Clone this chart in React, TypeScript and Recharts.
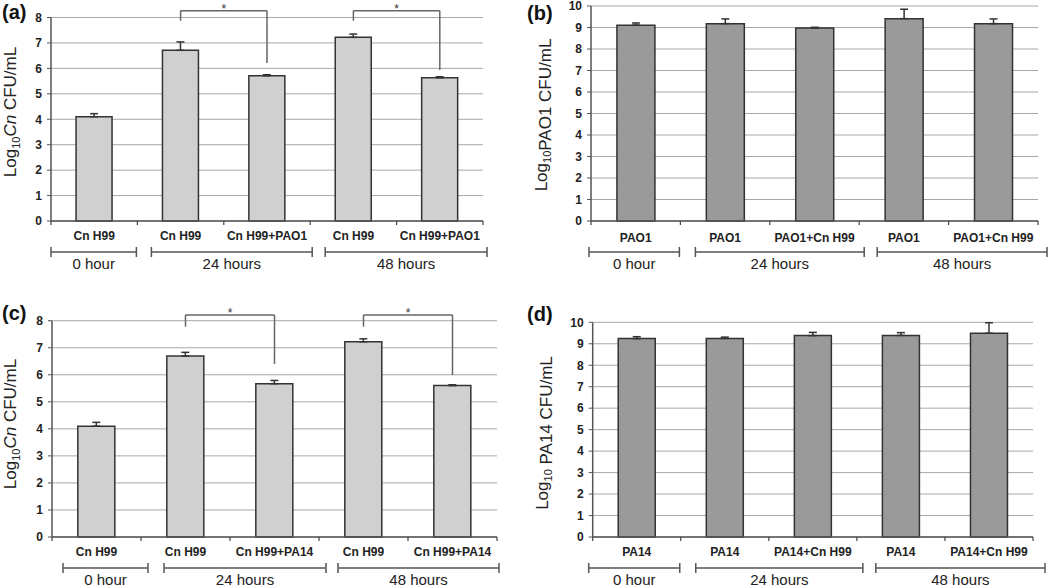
import {
  Bar,
  BarChart,
  CartesianGrid,
  ErrorBar,
  ReferenceLine,
  XAxis,
  YAxis,
} from "recharts";

const FONT = "'Liberation Sans', Arial, sans-serif";

// shared x grouping
const groupLabels = ["0 hour", "24 hours", "48 hours"];
const groupSpans: [number, number][] = [
  [0, 0],
  [1, 2],
  [3, 4],
];

// (a) Cn with PAO1
const catsA = ["Cn H99", "Cn H99", "Cn H99+PAO1", "Cn H99", "Cn H99+PAO1"];
const valsA = [4.1, 6.71, 5.71, 7.22, 5.63];
const errA = [0.12, 0.33, 0.04, 0.13, 0.04];

// (b) PAO1
const catsB = ["PAO1", "PAO1", "PAO1+Cn H99", "PAO1", "PAO1+Cn H99"];
const valsB = [9.11, 9.18, 8.98, 9.41, 9.18];
const errB = [0.1, 0.22, 0.03, 0.44, 0.22];

// (c) Cn with PA14
const catsC = ["Cn H99", "Cn H99", "Cn H99+PA14", "Cn H99", "Cn H99+PA14"];
const valsC = [4.1, 6.69, 5.67, 7.22, 5.6];
const errC = [0.14, 0.14, 0.12, 0.11, 0.03];

// (d) PA14
const catsD = ["PA14", "PA14", "PA14+Cn H99", "PA14", "PA14+Cn H99"];
const valsD = [9.24, 9.25, 9.38, 9.39, 9.49];
const errD = [0.09, 0.06, 0.15, 0.13, 0.49];

const ticks8 = [0, 1, 2, 3, 4, 5, 6, 7, 8];
const ticks10 = [0, 1, 2, 3, 4, 5, 6, 7, 8, 9, 10];

// significance brackets: category indexes, bracket top, leg ends
type Sig = { from: number; to: number; top: number; fromEnd: number; toEnd: number };
const sigA: Sig[] = [
  { from: 1, to: 2, top: 8.27, fromEnd: 7.87, toEnd: 6.21 },
  { from: 3, to: 4, top: 8.27, fromEnd: 7.87, toEnd: 5.94 },
];
const sigC: Sig[] = [
  { from: 1, to: 2, top: 8.21, fromEnd: 7.78, toEnd: 6.4 },
  { from: 3, to: 4, top: 8.21, fromEnd: 7.78, toEnd: 5.99 },
];

type Row = { key: string; value: number; err: [number, number] };
const makeRows = (vals: number[], errs: number[]): Row[] =>
  vals.map((v, i) => ({ key: String(i), value: v, err: [0, errs[i]] }));

type YLab = { sub: string; italic: string; rest: string };

type PanelCfg = {
  tag: string;
  tagY: number;
  left: number;
  top: number;
  width: number;
  height: number;
  margin: { top: number; right: number; bottom: number; left: number };
  xAxisHeight: number;
  cats: string[];
  rows: Row[];
  fill: string;
  yMax: number;
  yTicks: number[];
  sig: Sig[];
  groupPad: [number, number][];
  ylab: YLab;
  ylabX: number;
  ylabY: number;
  catDy: number;
};

const Y_AXIS_W = 30;

function makeTick(cfg: PanelCfg, bw: number) {
  return (props: any) => {
    const { x, y, payload } = props;
    const i = Number(payload.value);
    const lb = x - bw / 2;
    const gi = groupSpans.findIndex((s) => s[0] === i);
    let group = null;
    if (gi >= 0) {
      const [s, e] = groupSpans[gi];
      const x1 = lb + cfg.groupPad[gi][0];
      const x2 = lb + (e - s + 1) * bw + cfg.groupPad[gi][1];
      group = (
        <g>
          <line x1={x1} x2={x2} y1={y + 31} y2={y + 31} stroke="#555" strokeWidth={1.5} />
          <line x1={x1} x2={x1} y1={y + 26} y2={y + 36} stroke="#555" strokeWidth={1.5} />
          <line x1={x2} x2={x2} y1={y + 26} y2={y + 36} stroke="#555" strokeWidth={1.5} />
          <text x={(x1 + x2) / 2} y={y + 47.5} textAnchor="middle" fontSize={15} fill="#222" fontFamily={FONT}>
            {groupLabels[gi]}
          </text>
        </g>
      );
    }
    return (
      <g>
        <line x1={lb} x2={lb} y1={y} y2={y + 4} stroke="#444" strokeWidth={1.2} />
        {i === cfg.cats.length - 1 && (
          <line x1={lb + bw} x2={lb + bw} y1={y} y2={y + 4} stroke="#444" strokeWidth={1.2} />
        )}
        <text x={x} y={y + cfg.catDy} textAnchor="middle" fontSize={12} fontWeight="bold" fill="#222" fontFamily={FONT}>
          {cfg.cats[i]}
        </text>
        {group}
      </g>
    );
  };
}

function Panel({ cfg }: { cfg: PanelCfg }) {
  const m = cfg.margin;
  const bw = (cfg.width - m.left - m.right - Y_AXIS_W) / cfg.cats.length;
  const lineProps = { stroke: "#666", strokeWidth: 1.5, ifOverflow: "visible" as const };
  return (
    <div style={{ position: "absolute", left: cfg.left, top: cfg.top, width: cfg.width, height: cfg.height }}>
      <BarChart width={cfg.width} height={cfg.height} data={cfg.rows} margin={m} barCategoryGap="29%">
        <CartesianGrid vertical={false} stroke="#a8a8a8" strokeWidth={1} />
        <XAxis
          dataKey="key"
          height={cfg.xAxisHeight}
          interval={0}
          tickSize={0}
          tickMargin={0}
          tickLine={false}
          axisLine={{ stroke: "#555", strokeWidth: 1.5 }}
          tick={makeTick(cfg, bw)}
        />
        <YAxis
          width={Y_AXIS_W}
          domain={[0, cfg.yMax]}
          ticks={cfg.yTicks}
          interval={0}
          tickSize={4}
          tickMargin={5}
          axisLine={{ stroke: "#555", strokeWidth: 1.5 }}
          tickLine={{ stroke: "#555" }}
          tick={{ fontSize: 12, fontWeight: "bold", fill: "#222", fontFamily: FONT }}
        />
        <Bar dataKey="value" fill={cfg.fill} stroke="#333" strokeWidth={1.5} isAnimationActive={false}>
          <ErrorBar dataKey="err" width={4} stroke="#333" strokeWidth={1.5} direction="y" isAnimationActive={false} />
        </Bar>
        {cfg.sig.map((s, k) => [
          <ReferenceLine
            key={`l${k}`}
            {...lineProps}
            segment={[
              { x: String(s.from), y: s.fromEnd },
              { x: String(s.from), y: s.top },
            ]}
          />,
          <ReferenceLine
            key={`t${k}`}
            {...lineProps}
            segment={[
              { x: String(s.from), y: s.top },
              { x: String(s.to), y: s.top },
            ]}
            label={{ value: "*", position: "top", offset: -2, fontSize: 12, fill: "#333", fontFamily: FONT }}
          />,
          <ReferenceLine
            key={`r${k}`}
            {...lineProps}
            segment={[
              { x: String(s.to), y: s.top },
              { x: String(s.to), y: s.toEnd },
            ]}
          />,
        ])}
      </BarChart>
      <svg
        width={cfg.width}
        height={cfg.height}
        style={{ position: "absolute", left: 0, top: 0, pointerEvents: "none" }}
      >
        <text x={2} y={cfg.tagY} fontSize={20} fontWeight="bold" fill="#111" fontFamily={FONT}>
          {cfg.tag}
        </text>
        <text
          x={cfg.ylabX}
          y={cfg.ylabY}
          transform={`rotate(-90, ${cfg.ylabX}, ${cfg.ylabY})`}
          textAnchor="middle"
          fontSize={17}
          fill="#222"
          fontFamily={FONT}
        >
          Log
          <tspan fontSize={11} dy={4}>
            {cfg.ylab.sub}
          </tspan>
          <tspan dy={-4} fontStyle="italic">
            {cfg.ylab.italic}
          </tspan>
          <tspan>{cfg.ylab.rest}</tspan>
        </text>
      </svg>
    </div>
  );
}

const panels: PanelCfg[] = [
  {
    tag: "(a)",
    tagY: 19,
    left: 0,
    top: 0,
    width: 525,
    height: 290,
    margin: { top: 17.5, right: 42, bottom: 9, left: 21 },
    xAxisHeight: 60,
    cats: catsA,
    rows: makeRows(valsA, errA),
    fill: "#d0d0d0",
    yMax: 8,
    yTicks: ticks8,
    sig: sigA,
    groupPad: [
      [0, -1],
      [14, 2],
      [15, 4],
    ],
    ylab: { sub: "10", italic: "Cn", rest: " CFU/mL" },
    ylabX: 16,
    ylabY: 112,
    catDy: 19,
  },
  {
    tag: "(b)",
    tagY: 20,
    left: 525,
    top: 0,
    width: 525,
    height: 290,
    margin: { top: 6, right: 12, bottom: 9, left: 36 },
    xAxisHeight: 60,
    cats: catsB,
    rows: makeRows(valsB, errB),
    fill: "#9a9a9a",
    yMax: 10,
    yTicks: ticks10,
    sig: [],
    groupPad: [
      [-2, -1],
      [15, 5],
      [18, 9],
    ],
    ylab: { sub: "10", italic: "", rest: "PAO1 CFU/mL" },
    ylabX: 22,
    ylabY: 115,
    catDy: 21,
  },
  {
    tag: "(c)",
    tagY: 30,
    left: 0,
    top: 290,
    width: 525,
    height: 297,
    margin: { top: 30.7, right: 28, bottom: 0, left: 22 },
    xAxisHeight: 50,
    cats: catsC,
    rows: makeRows(valsC, errC),
    fill: "#d0d0d0",
    yMax: 8,
    yTicks: ticks8,
    sig: sigC,
    groupPad: [
      [11, 7],
      [23, 7],
      [19, 2],
    ],
    ylab: { sub: "10", italic: "Cn", rest: " CFU/mL" },
    ylabX: 16,
    ylabY: 134,
    catDy: 19,
  },
  {
    tag: "(d)",
    tagY: 31,
    left: 525,
    top: 290,
    width: 525,
    height: 297,
    margin: { top: 32.3, right: 17, bottom: 0, left: 37.7 },
    xAxisHeight: 50,
    cats: catsD,
    rows: makeRows(valsD, errD),
    fill: "#9a9a9a",
    yMax: 10,
    yTicks: ticks10,
    sig: [],
    groupPad: [
      [-4, -1],
      [15, 6],
      [19, 12],
    ],
    ylab: { sub: "10", italic: "", rest: " PA14 CFU/mL" },
    ylabX: 23,
    ylabY: 143,
    catDy: 19,
  },
];

export default function App() {
  return (
    <div
      style={{
        position: "absolute",
        left: 0,
        top: 0,
        width: 1050,
        height: 587,
        background: "#fff",
        overflow: "hidden",
        fontFamily: FONT,
      }}
    >
      {panels.map((p) => (
        <Panel key={p.tag} cfg={p} />
      ))}
    </div>
  );
}
